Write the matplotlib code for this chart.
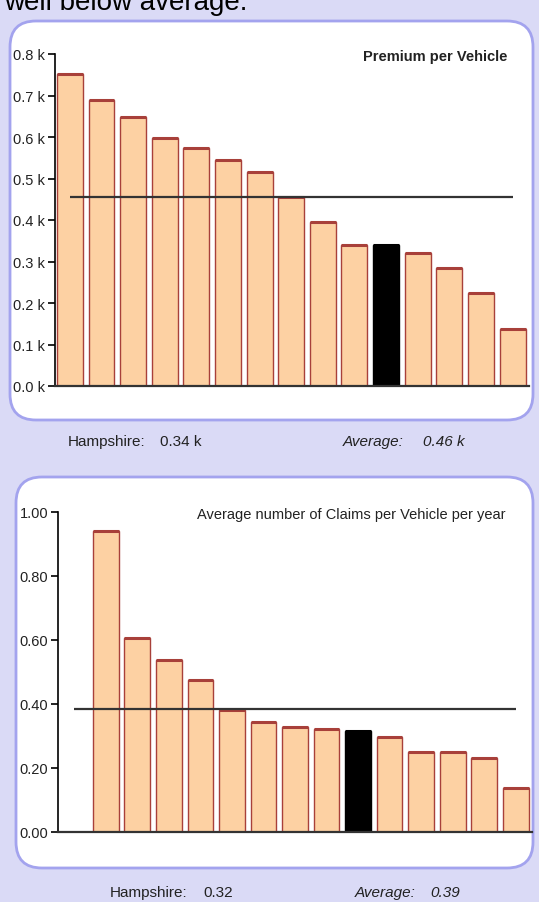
import matplotlib
matplotlib.use("Agg")
import matplotlib.pyplot as plt
import numpy as np
from matplotlib import font_manager
from matplotlib.patches import FancyBboxPatch
from matplotlib.transforms import IdentityTransform

# data
premium = [0.752, 0.689, 0.648, 0.598, 0.573, 0.545, 0.516, 0.455,
           0.395, 0.340, 0.340, 0.320, 0.284, 0.224, 0.137]
premium_highlight = 10          # Hampshire
premium_avg = 0.455
premium_ticks = [0.0, 0.1, 0.2, 0.3, 0.4, 0.5, 0.6, 0.7, 0.8]
premium_ticklabels = ["0.0 k", "0.1 k", "0.2 k", "0.3 k", "0.4 k",
                      "0.5 k", "0.6 k", "0.7 k", "0.8 k"]

claims = [np.nan, 0.94, 0.606, 0.537, 0.475, 0.381, 0.344, 0.328, 0.322,
          0.315, 0.298, 0.250, 0.250, 0.230, 0.137]
claims_highlight = 9
claims_avg = 0.385
claims_ticks = [0.0, 0.2, 0.4, 0.6, 0.8, 1.0]
claims_ticklabels = ["0.00", "0.20", "0.40", "0.60", "0.80", "1.00"]

# pick a narrow font if there is one
names = {f.name for f in font_manager.fontManager.ttflist}
narrow = "Liberation Sans Narrow" if "Liberation Sans Narrow" in names else "Liberation Sans"
plt.rcParams['font.family'] = [narrow, 'DejaVu Sans']

W, H = 539, 903
bg = '#dadaf6'
fill = '#fdd1a3'
edge = '#a8403a'
txt = '#222222'

fig = plt.figure(figsize=(W / 100, H / 100), dpi=100, facecolor=bg)


def panel(x0, y0, x1, y1):
    # rounded white box, pixel coords measured from the top
    p = FancyBboxPatch((x0, H - y1), x1 - x0, y1 - y0,
                       boxstyle="round,pad=0,rounding_size=26",
                       transform=IdentityTransform(), facecolor='white',
                       edgecolor='#a3a3ee', linewidth=2, zorder=-5)
    fig.patches.append(p)


panel(10, 22, 533, 421)
panel(16, 478, 533, 869)

# clipped heading from the page above the charts
fig.text(4 / W, 1 - 10 / H, "well below average.", fontsize=20,
         family=['Liberation Sans', 'DejaVu Sans'], color='black',
         va='baseline', ha='left')


def bars(ax, values, hi, avg, ticks, ticklabels, ymax, left):
    x = np.arange(len(values))
    vals = np.array(values, dtype=float)
    colors = [fill] * len(vals)
    edges = [edge] * len(vals)
    colors[hi] = 'black'
    edges[hi] = 'black'
    ax.bar(x, vals, width=0.82, color=colors, edgecolor=edges, linewidth=1.0, zorder=2)
    ok = ~np.isnan(vals)
    ax.hlines(vals[ok], x[ok] - 0.41, x[ok] + 0.41, color=[edges[i] for i in x[ok]],
              linewidth=2.2, zorder=3)
    ax.hlines(avg, 0, len(vals) - 1, color='#333333', linewidth=1.6, zorder=4)
    ax.set_xlim(left, len(vals) - 0.48)
    ax.set_ylim(0, ymax)
    ax.set_yticks(ticks)
    ax.set_yticklabels(ticklabels)
    ax.set_xticks([])
    for s in ['top', 'right']:
        ax.spines[s].set_visible(False)
    ax.spines['left'].set_linewidth(1.2)
    ax.spines['bottom'].set_linewidth(1.6)
    ax.spines['bottom'].set_color('#333333')
    ax.tick_params(axis='y', direction='out', length=5, width=1.2,
                   labelsize=10.5, labelcolor=txt, pad=2)
    ax.set_facecolor('none')


ax1 = fig.add_axes([55 / W, 1 - 387 / H, (529 - 55) / W, (387 - 55) / H])
bars(ax1, premium, premium_highlight, premium_avg, premium_ticks,
     premium_ticklabels, 0.8, -0.47)
ax1.text(0.955, 0.994, "Premium per Vehicle", transform=ax1.transAxes,
         ha='right', va='center', fontsize=10.5, fontweight='bold', color=txt)

ax2 = fig.add_axes([58 / W, 1 - 833 / H, (532 - 58) / W, (833 - 513) / H])
bars(ax2, claims, claims_highlight, claims_avg, claims_ticks,
     claims_ticklabels, 1.0, -0.52)
ax2.text(0.945, 0.994, "Average number of Claims per Vehicle per year",
         transform=ax2.transAxes, ha='right', va='center', fontsize=10.5, color=txt)

# summary lines under each panel
fig.text(68 / W, 1 - 442 / H, "Hampshire:", fontsize=11, color=txt, va='center')
fig.text(160 / W, 1 - 442 / H, "0.34 k", fontsize=11, color=txt, va='center')
fig.text(343 / W, 1 - 442 / H, "Average:", fontsize=11, color=txt, va='center', style='italic')
fig.text(423 / W, 1 - 442 / H, "0.46 k", fontsize=11, color=txt, va='center', style='italic')

fig.text(110 / W, 1 - 893 / H, "Hampshire:", fontsize=11, color=txt, va='center')
fig.text(203 / W, 1 - 893 / H, "0.32", fontsize=11, color=txt, va='center')
fig.text(355 / W, 1 - 893 / H, "Average:", fontsize=11, color=txt, va='center', style='italic')
fig.text(430 / W, 1 - 893 / H, "0.39", fontsize=11, color=txt, va='center', style='italic')

fig.savefig("out.png", dpi=100, facecolor=bg)
